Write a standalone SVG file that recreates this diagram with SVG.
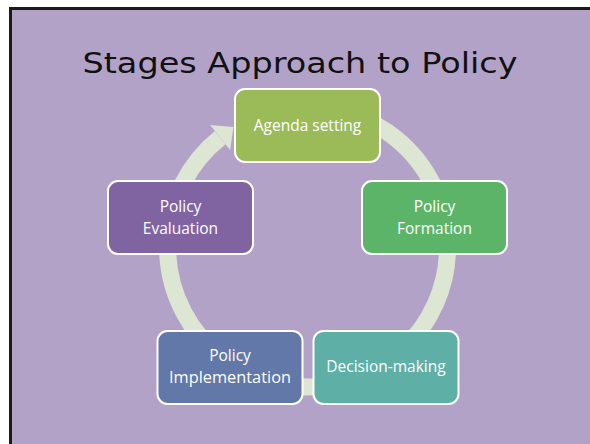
<svg xmlns="http://www.w3.org/2000/svg" width="590" height="444" viewBox="0 0 590 444">
<style>
.box{stroke:#ffffff;stroke-width:2}
.lbl{font-family:"Open Sans","Liberation Sans",sans-serif;font-size:15.5px;fill:#ffffff;text-anchor:middle}
.title{font-family:"DejaVu Sans","Liberation Sans",sans-serif;font-size:29px;fill:#111111;text-anchor:middle}
</style>
<rect x="0" y="0" width="590" height="444" fill="#ffffff"/>
<rect x="10.5" y="8.5" width="590" height="440" fill="#b3a2c7" stroke="#1a1a1a" stroke-width="3"/>
<text class="title" x="300" y="73" textLength="435" lengthAdjust="spacingAndGlyphs">Stages Approach to Policy</text>
<g id="connectors">
<path d="M331.8,109.1 A140,140 0 1 1 220.2,137.6" fill="none" stroke="#dce6d3" stroke-width="17"/>
<polygon points="230.1,150.1 210.2,125.1 233.5,127.0" fill="#dce6d3"/>
</g>
<g id="agenda">
<rect class="box" x="235" y="89" width="145" height="73" rx="10" fill="#9bbb59"/>
<text class="lbl" x="307.5" y="131">Agenda setting</text>
</g>
<g id="formation">
<rect class="box" x="362" y="181" width="145" height="73" rx="10" fill="#5cb468"/>
<text class="lbl" x="434.5" y="212">Policy</text>
<text class="lbl" x="434.5" y="234">Formation</text>
</g>
<g id="decision">
<rect class="box" x="313.5" y="331" width="145" height="73" rx="10" fill="#5eafa6"/>
<text class="lbl" x="386" y="372">Decision-making</text>
</g>
<g id="implementation">
<rect class="box" x="157.5" y="331" width="145" height="73" rx="10" fill="#6178a8"/>
<text class="lbl" x="230" y="361">Policy</text>
<text class="lbl" x="230" y="383" textLength="122" lengthAdjust="spacingAndGlyphs">Implementation</text>
</g>
<g id="evaluation">
<rect class="box" x="108" y="181" width="145" height="73" rx="10" fill="#8064a2"/>
<text class="lbl" x="180.5" y="212">Policy</text>
<text class="lbl" x="180.5" y="234">Evaluation</text>
</g>
</svg>
